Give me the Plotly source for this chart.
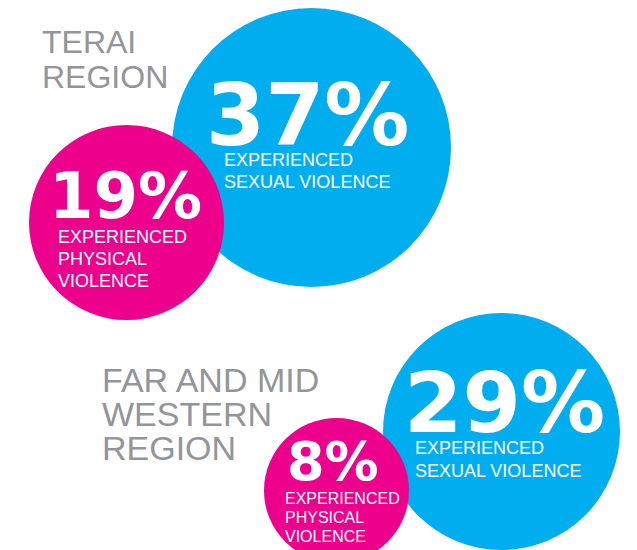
import plotly.graph_objects as go

# ---- data ----
region_names = ["TERAI<br>REGION", "FAR AND MID<br>WESTERN<br>REGION"]
sexual_pct = [37, 29]
physical_pct = [19, 8]
sexual_label = "EXPERIENCED<br>SEXUAL VIOLENCE"
physical_label = "EXPERIENCED<br>PHYSICAL<br>VIOLENCE"

# ---- layout geometry (pixel-space axes) ----
W, H = 637, 550
BLUE = "#00AEEF"
PINK = "#EC008C"
GRAY = "#939598"

# per region: circles (cx, cy, r), number pos (x, baseline, size), label pos (x, first baseline, size, spacing)
geo = [
    dict(title=(41, 53, 32, 35),
         sex_circle=(311.5, 147.5, 139.5), phys_circle=(126.5, 222.5, 97.5),
         sex_num=(205, 145, 85), sex_lab=(223, 166, 18, 22),
         phys_num=(48, 218, 64), phys_lab=(57, 243, 18, 22)),
    dict(title=(101, 392, 34, 34),
         sex_circle=(501.5, 431.5, 118.5), phys_circle=(336.5, 490.5, 72.5),
         sex_num=(403, 432, 84), sex_lab=(414, 454, 18, 23),
         phys_num=(286, 480, 54), phys_lab=(284, 504, 16, 19)),
]

fig = go.Figure()
shapes = []
annotations = []


def circle(c, color):
    cx, cy, r = c
    return dict(type="circle", xref="x", yref="y", x0=cx - r, x1=cx + r, y0=cy - r, y1=cy + r,
                fillcolor=color, line=dict(width=0), layer="below")


def text_lines(text, x, baseline, size, spacing, color, family, weight="normal"):
    out = []
    for i, line in enumerate(text.split("<br>")):
        b = baseline + i * spacing
        out.append(dict(x=x, y=b - 0.35 * size, xref="x", yref="y", text=line, showarrow=False,
                        xanchor="left", yanchor="middle", borderpad=0,
                        font=dict(family=family, size=size, color=color, weight=weight)))
    return out


for i, g in enumerate(geo):
    shapes.append(circle(g["sex_circle"], BLUE))
    shapes.append(circle(g["phys_circle"], PINK))
    tx, tb, ts, tsp = g["title"]
    annotations += text_lines(region_names[i], tx, tb, ts, tsp, GRAY, "Liberation Sans, Arial")
    nx, nb, ns = g["sex_num"]
    annotations += text_lines(f"{sexual_pct[i]}%", nx, nb, ns, 0, "white", "DejaVu Sans", "bold")
    lx, lb, ls, lsp = g["sex_lab"]
    annotations += text_lines(sexual_label, lx, lb, ls, lsp, "white", "Liberation Sans, Arial")
    nx, nb, ns = g["phys_num"]
    annotations += text_lines(f"{physical_pct[i]}%", nx, nb, ns, 0, "white", "DejaVu Sans", "bold")
    lx, lb, ls, lsp = g["phys_lab"]
    annotations += text_lines(physical_label, lx, lb, ls, lsp, "white", "Liberation Sans, Arial")

fig.update_layout(
    width=W, height=H,
    margin=dict(l=0, r=0, t=0, b=0),
    paper_bgcolor="white", plot_bgcolor="white",
    xaxis=dict(range=[0, W], visible=False, fixedrange=True),
    yaxis=dict(range=[H, 0], visible=False, fixedrange=True),
    shapes=shapes,
    annotations=annotations,
    showlegend=False,
)

fig.write_html("out.html", config={"displayModeBar": False},
               post_script="document.body.style.margin='0';document.body.style.overflow='hidden';")
